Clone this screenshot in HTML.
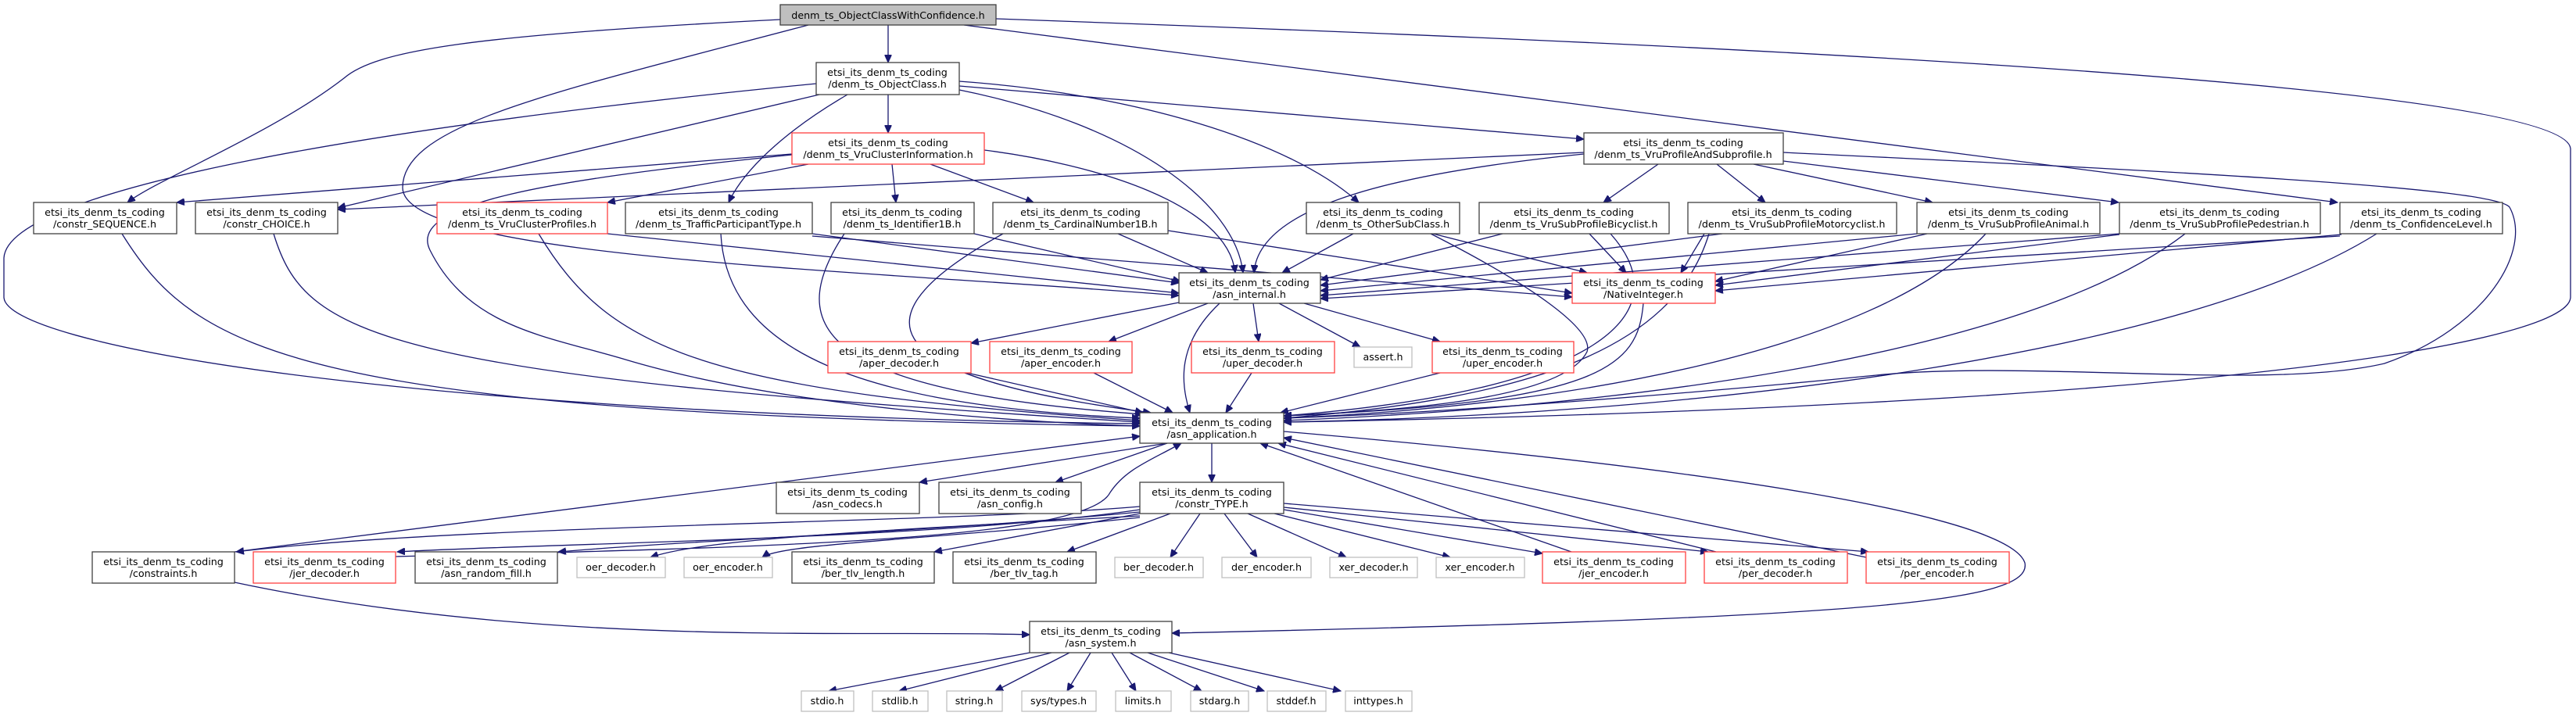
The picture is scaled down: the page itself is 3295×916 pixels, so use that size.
<!DOCTYPE html>
<html><head><meta charset="utf-8"><style>
html,body{margin:0;padding:0;background:#fff;width:3295px;height:916px;overflow:hidden}
text{font-family:"DejaVu Sans","Liberation Sans",sans-serif;font-size:12.7px;fill:#000;text-anchor:middle}
.e{fill:none;stroke:#191970;stroke-width:1.3}
.n{fill:#fff;stroke:#404040;stroke-width:1.3}
.r{fill:#fff;stroke:#ff4040;stroke-width:1.3}
.g{fill:#fff;stroke:#bfbfbf;stroke-width:1.3}
</style></head><body>
<svg width="3295" height="916" xmlns="http://www.w3.org/2000/svg">
<defs><marker id="a" markerUnits="userSpaceOnUse" markerWidth="11" markerHeight="9" refX="10" refY="4.5" orient="auto"><path d="M0,0 L10,4.5 L0,9z" fill="#191970" stroke="#191970"/></marker></defs>
<g class="e" marker-end="url(#a)">
<path d="M1136,32 L1136,80"/>
<path d="M998,25 C600,45 480,65 440,100 C350,170 200,230 163,259"/>
<path d="M1034,32 C700,120 515,160 515,240 C515,330 1100,345 1508,378"/>
<path d="M1233,32 L2990,259"/>
<path d="M1274,24 C2000,50 3280,100 3288,190 L3288,380 C3288,440 2800,520 1642,540"/>
<path d="M1044,107 C500,160 10,240 5,330 L5,380 C5,440 500,530 1458,542"/>
<path d="M1136,121 L1136,170"/>
<path d="M1048,121 L432,266"/>
<path d="M1084,121 C1000,170 950,220 932,259"/>
<path d="M1227,115 C1450,160 1580,260 1590,349"/>
<path d="M1227,104 C1450,120 1650,180 1738,259"/>
<path d="M1227,110 L2026,178"/>
<path d="M1013,197 L226,259"/>
<path d="M1034,210 L777,259"/>
<path d="M1141,210 L1146,259"/>
<path d="M1190,210 L1322,259"/>
<path d="M1259,192 C1400,210 1570,260 1580,349"/>
<path d="M1013,198 C700,230 520,260 550,320 C600,420 700,430 800,460 C1000,520 1300,540 1458,545"/>
<path d="M2026,195 L432,268"/>
<path d="M2026,197 C1800,220 1610,260 1604,349"/>
<path d="M2121,210 L2051,259"/>
<path d="M2196,210 L2258,259"/>
<path d="M2243,210 L2472,259"/>
<path d="M2281,206 L2710,259"/>
<path d="M2281,195 C2800,220 3190,240 3210,265 C3240,320 3180,420 3050,465 C2900,500 2600,460 2400,480 C2100,510 1800,530 1642,535"/>
<path d="M156,299 C250,450 380,530 1458,545"/>
<path d="M350,299 C390,430 480,480 1458,540"/>
<path d="M777,299 L1508,375"/>
<path d="M689,299 C780,450 900,500 1458,538"/>
<path d="M1039,299 L1508,362"/>
<path d="M1039,302 L2011,380"/>
<path d="M922,299 C930,450 1100,520 1458,535"/>
<path d="M1246,299 L1510,360"/>
<path d="M1080,299 C1000,420 1050,500 1462,530"/>
<path d="M1430,299 L1545,349"/>
<path d="M1494,295 L2011,375"/>
<path d="M1283,299 C1100,400 1100,480 1472,528"/>
<path d="M1731,299 L1640,349"/>
<path d="M1833,299 L2030,349"/>
<path d="M1830,299 C1950,360 2040,420 2030,450 C2000,510 1800,525 1642,532"/>
<path d="M1922,299 L1689,358"/>
<path d="M2033,299 L2080,349"/>
<path d="M2060,299 C2150,400 2050,500 1642,532"/>
<path d="M2203,299 L1689,365"/>
<path d="M2180,299 L2150,349"/>
<path d="M2186,299 C2140,450 1950,510 1642,535"/>
<path d="M2452,299 L1689,372"/>
<path d="M2465,299 L2194,360"/>
<path d="M2540,299 C2400,450 2000,520 1642,535"/>
<path d="M2711,299 L1689,378"/>
<path d="M2711,300 L2194,365"/>
<path d="M2795,299 C2600,450 2100,520 1642,538"/>
<path d="M2993,302 L1689,382"/>
<path d="M2995,300 L2194,372"/>
<path d="M3040,299 C2800,450 2200,530 1642,540"/>
<path d="M1508,387 L1242,439"/>
<path d="M1545,388 L1418,437"/>
<path d="M1603,388 L1610,437"/>
<path d="M1636,388 L1740,444"/>
<path d="M1668,388 L1842,437"/>
<path d="M1560,388 C1505,440 1510,490 1522,528"/>
<path d="M2102,388 C2095,470 2050,515 1642,532"/>
<path d="M1237,477 L1462,528"/>
<path d="M1399,477 L1500,528"/>
<path d="M1601,477 L1568,528"/>
<path d="M1842,477 L1638,528"/>
<path d="M1493,567 L1176,617"/>
<path d="M1493,567 L1350,617"/>
<path d="M1550,567 L1550,617"/>
<path d="M300,706 L1458,558"/>
<path d="M1458,648 C1200,670 600,670 302,706"/>
<path d="M1458,652 C1200,690 700,695 508,706"/>
<path d="M1458,655 C1200,680 900,690 714,706"/>
<path d="M1458,660 C1100,680 900,690 832,713"/>
<path d="M1458,662 C1200,690 1000,695 975,713"/>
<path d="M1458,657 L1195,706"/>
<path d="M1497,657 L1365,706"/>
<path d="M1535,657 L1497,713"/>
<path d="M1566,657 L1608,713"/>
<path d="M1596,657 L1722,713"/>
<path d="M1630,657 L1855,713"/>
<path d="M1642,652 L1973,708"/>
<path d="M1642,649 L2185,706"/>
<path d="M1642,644 L2390,706"/>
<path d="M506,712 C1000,700 1390,690 1420,630 C1440,600 1470,590 1511,567"/>
<path d="M2010,706 L1612,567"/>
<path d="M2195,706 L1635,567"/>
<path d="M2387,713 L1642,560"/>
<path d="M1642,552 C2200,600 2570,660 2590,720 C2600,770 2400,790 1499,810"/>
<path d="M300,745 C700,830 1100,805 1317,812"/>
<path d="M1317,835 L1060,884"/>
<path d="M1345,835 L1150,884"/>
<path d="M1368,835 L1273,884"/>
<path d="M1395,835 L1365,884"/>
<path d="M1422,835 L1453,884"/>
<path d="M1445,835 L1537,884"/>
<path d="M1468,835 L1617,884"/>
<path d="M1495,835 L1715,884"/>
</g>
<g>
<rect x="998" y="6" width="276" height="26" fill="#bfbfbf" stroke="#404040" stroke-width="1.3"/><text x="1136" y="24">denm_ts_ObjectClassWithConfidence.h</text>
<rect class="n" x="1044" y="80" width="183" height="41"/><text x="1135" y="97">etsi_its_denm_ts_coding</text><text x="1135" y="112">/denm_ts_ObjectClass.h</text>
<rect class="r" x="1013" y="170" width="246" height="40"/><text x="1136" y="187">etsi_its_denm_ts_coding</text><text x="1136" y="202">/denm_ts_VruClusterInformation.h</text>
<rect class="n" x="2026" y="170" width="255" height="40"/><text x="2153" y="187">etsi_its_denm_ts_coding</text><text x="2153" y="202">/denm_ts_VruProfileAndSubprofile.h</text>
<rect class="n" x="43" y="259" width="183" height="40"/><text x="134" y="276">etsi_its_denm_ts_coding</text><text x="134" y="291">/constr_SEQUENCE.h</text>
<rect class="n" x="250" y="259" width="182" height="40"/><text x="341" y="276">etsi_its_denm_ts_coding</text><text x="341" y="291">/constr_CHOICE.h</text>
<rect class="r" x="559" y="259" width="218" height="40"/><text x="668" y="276">etsi_its_denm_ts_coding</text><text x="668" y="291">/denm_ts_VruClusterProfiles.h</text>
<rect class="n" x="800" y="259" width="239" height="40"/><text x="919" y="276">etsi_its_denm_ts_coding</text><text x="919" y="291">/denm_ts_TrafficParticipantType.h</text>
<rect class="n" x="1063" y="259" width="183" height="40"/><text x="1154" y="276">etsi_its_denm_ts_coding</text><text x="1154" y="291">/denm_ts_Identifier1B.h</text>
<rect class="n" x="1270" y="259" width="224" height="40"/><text x="1382" y="276">etsi_its_denm_ts_coding</text><text x="1382" y="291">/denm_ts_CardinalNumber1B.h</text>
<rect class="n" x="1671" y="259" width="196" height="40"/><text x="1769" y="276">etsi_its_denm_ts_coding</text><text x="1769" y="291">/denm_ts_OtherSubClass.h</text>
<rect class="n" x="1892" y="259" width="243" height="40"/><text x="2013" y="276">etsi_its_denm_ts_coding</text><text x="2013" y="291">/denm_ts_VruSubProfileBicyclist.h</text>
<rect class="n" x="2159" y="259" width="267" height="40"/><text x="2292" y="276">etsi_its_denm_ts_coding</text><text x="2292" y="291">/denm_ts_VruSubProfileMotorcyclist.h</text>
<rect class="n" x="2452" y="259" width="234" height="40"/><text x="2569" y="276">etsi_its_denm_ts_coding</text><text x="2569" y="291">/denm_ts_VruSubProfileAnimal.h</text>
<rect class="n" x="2711" y="259" width="257" height="40"/><text x="2839" y="276">etsi_its_denm_ts_coding</text><text x="2839" y="291">/denm_ts_VruSubProfilePedestrian.h</text>
<rect class="n" x="2993" y="259" width="208" height="40"/><text x="3097" y="276">etsi_its_denm_ts_coding</text><text x="3097" y="291">/denm_ts_ConfidenceLevel.h</text>
<rect class="n" x="1508" y="349" width="181" height="39"/><text x="1598" y="366">etsi_its_denm_ts_coding</text><text x="1598" y="381">/asn_internal.h</text>
<rect class="r" x="2011" y="349" width="183" height="39"/><text x="2102" y="366">etsi_its_denm_ts_coding</text><text x="2102" y="381">/NativeInteger.h</text>
<rect class="r" x="1059" y="437" width="183" height="40"/><text x="1150" y="454">etsi_its_denm_ts_coding</text><text x="1150" y="469">/aper_decoder.h</text>
<rect class="r" x="1266" y="437" width="182" height="40"/><text x="1357" y="454">etsi_its_denm_ts_coding</text><text x="1357" y="469">/aper_encoder.h</text>
<rect class="r" x="1524" y="437" width="183" height="40"/><text x="1615" y="454">etsi_its_denm_ts_coding</text><text x="1615" y="469">/uper_decoder.h</text>
<rect class="g" x="1732" y="444" width="74" height="26"/><text x="1769" y="461">assert.h</text>
<rect class="r" x="1832" y="437" width="181" height="40"/><text x="1922" y="454">etsi_its_denm_ts_coding</text><text x="1922" y="469">/uper_encoder.h</text>
<rect class="n" x="1458" y="528" width="184" height="39"/><text x="1550" y="545">etsi_its_denm_ts_coding</text><text x="1550" y="560">/asn_application.h</text>
<rect class="n" x="993" y="617" width="183" height="40"/><text x="1084" y="634">etsi_its_denm_ts_coding</text><text x="1084" y="649">/asn_codecs.h</text>
<rect class="n" x="1201" y="617" width="182" height="40"/><text x="1292" y="634">etsi_its_denm_ts_coding</text><text x="1292" y="649">/asn_config.h</text>
<rect class="n" x="1458" y="617" width="184" height="40"/><text x="1550" y="634">etsi_its_denm_ts_coding</text><text x="1550" y="649">/constr_TYPE.h</text>
<rect class="n" x="118" y="706" width="182" height="40"/><text x="209" y="723">etsi_its_denm_ts_coding</text><text x="209" y="738">/constraints.h</text>
<rect class="r" x="324" y="706" width="182" height="40"/><text x="415" y="723">etsi_its_denm_ts_coding</text><text x="415" y="738">/jer_decoder.h</text>
<rect class="n" x="531" y="706" width="182" height="40"/><text x="622" y="723">etsi_its_denm_ts_coding</text><text x="622" y="738">/asn_random_fill.h</text>
<rect class="g" x="738" y="713" width="113" height="26"/><text x="794" y="730">oer_decoder.h</text>
<rect class="g" x="875" y="713" width="113" height="26"/><text x="931" y="730">oer_encoder.h</text>
<rect class="n" x="1013" y="706" width="182" height="40"/><text x="1104" y="723">etsi_its_denm_ts_coding</text><text x="1104" y="738">/ber_tlv_length.h</text>
<rect class="n" x="1219" y="706" width="183" height="40"/><text x="1310" y="723">etsi_its_denm_ts_coding</text><text x="1310" y="738">/ber_tlv_tag.h</text>
<rect class="g" x="1426" y="713" width="113" height="26"/><text x="1482" y="730">ber_decoder.h</text>
<rect class="g" x="1563" y="713" width="114" height="26"/><text x="1620" y="730">der_encoder.h</text>
<rect class="g" x="1701" y="713" width="112" height="26"/><text x="1757" y="730">xer_decoder.h</text>
<rect class="g" x="1837" y="713" width="113" height="26"/><text x="1893" y="730">xer_encoder.h</text>
<rect class="r" x="1973" y="706" width="183" height="40"/><text x="2064" y="723">etsi_its_denm_ts_coding</text><text x="2064" y="738">/jer_encoder.h</text>
<rect class="r" x="2180" y="706" width="183" height="40"/><text x="2271" y="723">etsi_its_denm_ts_coding</text><text x="2271" y="738">/per_decoder.h</text>
<rect class="r" x="2387" y="706" width="183" height="40"/><text x="2478" y="723">etsi_its_denm_ts_coding</text><text x="2478" y="738">/per_encoder.h</text>
<rect class="n" x="1317" y="795" width="182" height="40"/><text x="1408" y="812">etsi_its_denm_ts_coding</text><text x="1408" y="827">/asn_system.h</text>
<rect class="g" x="1025" y="884" width="67" height="26"/><text x="1058" y="901">stdio.h</text>
<rect class="g" x="1116" y="884" width="71" height="26"/><text x="1151" y="901">stdlib.h</text>
<rect class="g" x="1211" y="884" width="71" height="26"/><text x="1246" y="901">string.h</text>
<rect class="g" x="1307" y="884" width="95" height="26"/><text x="1354" y="901">sys/types.h</text>
<rect class="g" x="1427" y="884" width="71" height="26"/><text x="1462" y="901">limits.h</text>
<rect class="g" x="1523" y="884" width="74" height="26"/><text x="1560" y="901">stdarg.h</text>
<rect class="g" x="1621" y="884" width="75" height="26"/><text x="1658" y="901">stddef.h</text>
<rect class="g" x="1721" y="884" width="85" height="26"/><text x="1763" y="901">inttypes.h</text>
</g>
</svg>
</body></html>
